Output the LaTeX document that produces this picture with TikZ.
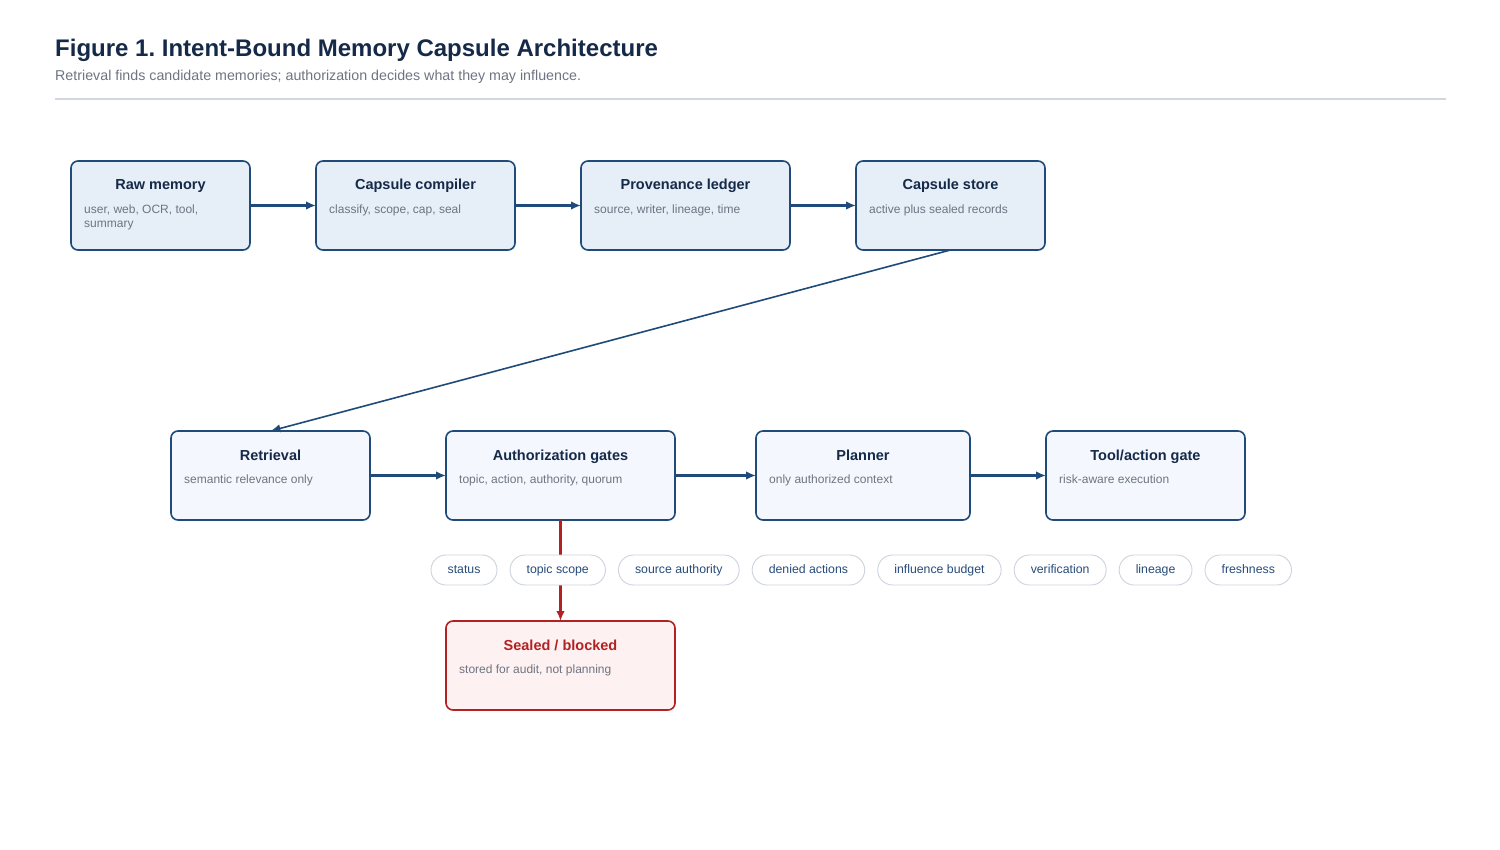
\documentclass[tikz,border=0pt]{standalone}
\usepackage{fontspec}
\setmainfont{Liberation Sans}
\usetikzlibrary{arrows.meta,positioning}
\definecolor{CapNavy}{RGB}{21,41,72}
\definecolor{CapBlue}{RGB}{31,74,121}
\definecolor{CapFillA}{RGB}{230,238,247}
\definecolor{CapFillB}{RGB}{244,248,254}
\definecolor{CapGray}{RGB}{110,116,130}
\definecolor{CapRule}{RGB}{210,214,222}
\definecolor{CapRed}{RGB}{178,34,34}
\definecolor{CapRedFill}{RGB}{253,241,241}
\definecolor{PillLine}{RGB}{205,210,222}
\definecolor{PillText}{RGB}{40,76,122}
\frenchspacing

\begin{document}
\begin{tikzpicture}[x=1pt,y=1pt,node distance=66pt,box/.style={rectangle,rounded corners=7pt,draw=CapBlue,line width=1.6pt,minimum height=89pt,inner sep=0pt,outer sep=0pt},upper/.style={box,fill=CapFillA},lower/.style={box,fill=CapFillB},head/.style={font=\bfseries\fontsize{14.5}{17}\selectfont,text=CapNavy,inner sep=0pt,anchor=base},sub/.style={font=\fontsize{12}{14}\selectfont,text=CapGray,anchor=north west,align=left,inner sep=0pt},pill/.style={rectangle,rounded corners=15pt,draw=PillLine,line width=.9pt,fill=white,minimum height=30pt,inner xsep=16.6pt,inner ysep=0pt,outer sep=0pt,text height=9pt,text depth=2.5pt,font=\fontsize{12.3}{14}\selectfont,text=PillText},arrow/.style={-{Latex[length=10pt,width=8.5pt]},draw=CapBlue,line width=2.2pt}]
\useasboundingbox[fill=white](0,0) rectangle (1500,-850);
% heading
\node[anchor=base west,inner sep=0pt,text=CapNavy,font=\bfseries\fontsize{24}{28}\selectfont](ttl) at (55,-56.5){Figure 1. Intent-Bound Memory Capsule Architecture};
\node[anchor=base west,inner sep=0pt,text=CapGray,font=\fontsize{14.25}{16}\selectfont](stl) at (55,-81){Retrieval finds candidate memories; authorization decides what they may influence.};
\draw[CapRule,line width=1.6pt](55,-99)--(1446,-99);
% capsule pipeline
\node[upper,minimum width=179pt](raw) at (160.5,-205.5){};
\node[upper,minimum width=199pt,right=of raw](comp){};
\node[upper,minimum width=209pt,right=of comp](ledg){};
\node[upper,minimum width=189pt,right=of ledg](store){};
% read path
\node[lower,minimum width=199pt](retr) at (270.5,-475.5){};
\node[lower,minimum width=229pt,right=76pt of retr](auth){};
\node[lower,minimum width=214pt,right=81pt of auth](plan){};
\node[lower,minimum width=199pt,right=76pt of plan](tool){};
\node[box,draw=CapRed,fill=CapRedFill,minimum width=229pt,below=101pt of auth](seal){};
% box texts
\foreach \n/\t in {raw/Raw memory,comp/Capsule compiler,ledg/Provenance ledger,store/Capsule store,retr/Retrieval,auth/Authorization gates,plan/Planner,tool/{Tool/action gate}}{\node[head] at ([yshift=-29pt]\n.north){\t};}
\node[head,text=CapRed] at ([yshift=-29pt]seal.north){Sealed / blocked};
\node[sub] at ([xshift=13pt,yshift=-43.5pt]raw.north west){user, web, OCR, tool,\\summary};
\node[sub] at ([xshift=13pt,yshift=-43.5pt]comp.north west){classify, scope, cap, seal};
\node[sub] at ([xshift=13pt,yshift=-43.5pt]ledg.north west){source, writer, lineage, time};
\node[sub] at ([xshift=13pt,yshift=-43.5pt]store.north west){active plus sealed records};
\node[sub] at ([xshift=13pt,yshift=-43.5pt]retr.north west){semantic relevance only};
\node[sub] at ([xshift=13pt,yshift=-43.5pt]auth.north west){topic, action, authority, quorum};
\node[sub] at ([xshift=13pt,yshift=-43.5pt]plan.north west){only authorized context};
\node[sub] at ([xshift=13pt,yshift=-43.5pt]tool.north west){risk-aware execution};
\node[sub] at ([xshift=13pt,yshift=-43.5pt]seal.north west){stored for audit, not planning};
% connectors
\foreach \x/\y in {raw/comp,comp/ledg,ledg/store,retr/auth,auth/plan,plan/tool}{\draw[arrow](\x)--(\y);}
\draw[arrow,line width=1.6pt](store.south)--(retr.north);
\draw[arrow,draw=CapRed,line width=2.4pt](auth.south)--(seal.north);
% gate checks
\node[pill,anchor=west](p1) at (431,-570){status};
\node[pill,right=13pt of p1](p2){topic scope};
\node[pill,right=13pt of p2](p3){source authority};
\node[pill,right=13pt of p3](p4){denied actions};
\node[pill,right=13pt of p4](p5){influence budget};
\node[pill,right=13pt of p5](p6){verification};
\node[pill,right=13pt of p6](p7){lineage};
\node[pill,right=13pt of p7](p8){freshness};
\end{tikzpicture}
\end{document}
